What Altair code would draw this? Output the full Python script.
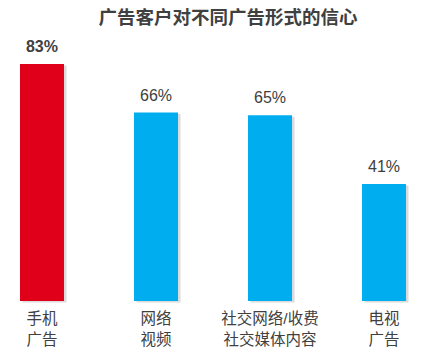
import altair as alt
import pandas as pd

categories = ["手机|广告", "网络|视频", "社交网络/收费|社交媒体内容", "电视|广告"]
values = [83, 66, 65, 41]
labels = ["83%", "66%", "65%", "41%"]
highlight = [True, False, False, False]

df = pd.DataFrame({"cat": categories, "v": values, "lab": labels, "hl": highlight})

FONT = "Liberation Sans, Noto Sans CJK SC, sans-serif"

x = alt.X("cat:N", sort=categories,
          scale=alt.Scale(paddingInner=0.614, paddingOuter=0.149),
          axis=alt.Axis(title=None, domain=False, ticks=False, labelAngle=0,
                        labelExpr="split(datum.label, '|')", labelFont=FONT,
                        labelFontSize=15.5, labelColor="#404040", labelLineHeight=21,
                        labelPadding=10, labelBaseline="top"))
y = alt.Y("v:Q", scale=alt.Scale(domain=[0, 105.4], nice=False),
          axis=None)

base = alt.Chart(df)

shadow = base.mark_bar(color="#999999", opacity=0.35, xOffset=2.5, yOffset=1.5).encode(x=x, y=y)

bars = base.mark_bar().encode(
    x=x, y=y,
    color=alt.Color("hl:N", scale=alt.Scale(domain=[True, False], range=["#E1001A", "#00AEEF"]), legend=None),
)

text_bold = base.transform_filter("datum.hl").mark_text(
    baseline="bottom", dy=-9, font=FONT, fontSize=16, fontWeight="bold", color="#404040"
).encode(x=x, y=y, text="lab:N")

text_norm = base.transform_filter("!datum.hl").mark_text(
    baseline="bottom", dy=-9, font=FONT, fontSize=16, color="#404040"
).encode(x=x, y=y, text="lab:N")

chart = alt.layer(shadow, bars, text_bold, text_norm).properties(
    width=420, height=301,
    padding={"left": 3, "right": 0, "top": 0, "bottom": 51},
    autosize=alt.AutoSizeParams(type="none"),
    title=alt.Title("广告客户对不同广告形式的信心", font=FONT, fontSize=18.5, fontWeight="bold",
                    color="#404040", anchor="middle", dx=15, dy=27, offset=0),
).configure_view(stroke=None)

chart.save("out.html", embed_options={"renderer": "svg", "actions": False})
